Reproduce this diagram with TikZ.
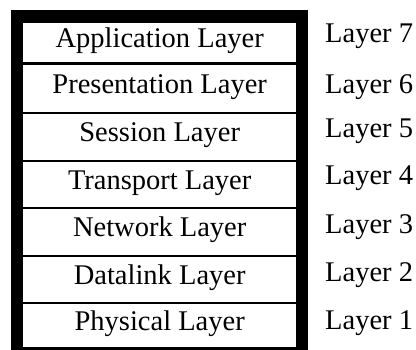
\documentclass[tikz,border=0pt]{standalone}
\usepackage{fontspec}
\setmainfont{Liberation Serif}
\begin{document}
\begin{tikzpicture}[x=1pt, y=-1pt,
    layerbox/.style={fill=white, anchor=north west, inner sep=0pt,
        minimum width=273pt, text height=0.92em, text depth=0em,
        font=\fontsize{28.5}{30}\selectfont},
    layerlabel/.style={anchor=west, inner sep=0pt,
        text height=0.92em, text depth=0em,
        font=\fontsize{28.5}{30}\selectfont}]

    \useasboundingbox (0,0) rectangle (416,350);

    % Khung den bao quanh
    \fill[black] (11,10) rectangle (308,350);

    % Cac tang cua mo hinh
    \node[layerbox, minimum height=39pt] (app)   at (23,23)  {Application Layer};
    \node[layerbox, minimum height=47pt] (pres)  at (23,65)  {Presentation Layer};
    \node[layerbox, minimum height=46pt] (sess)  at (23,114) {Session Layer};
    \node[layerbox, minimum height=45pt] (trans) at (23,162) {Transport Layer};
    \node[layerbox, minimum height=46pt] (net)   at (23,209) {Network Layer};
    \node[layerbox, minimum height=45pt] (data)  at (23,257) {Datalink Layer};
    \node[layerbox, minimum height=43pt] (phys)  at (23,304) {Physical Layer};

    % So thu tu tang ben phai
    \node[layerlabel] (l7) at (325,38)  {Layer 7};
    \node[layerlabel] (l6) at (325,89)  {Layer 6};
    \node[layerlabel] (l5) at (325,133) {Layer 5};
    \node[layerlabel] (l4) at (325,180) {Layer 4};
    \node[layerlabel] (l3) at (325,229) {Layer 3};
    \node[layerlabel] (l2) at (325,277) {Layer 2};
    \node[layerlabel] (l1) at (325,325) {Layer 1};
\end{tikzpicture}
\end{document}
